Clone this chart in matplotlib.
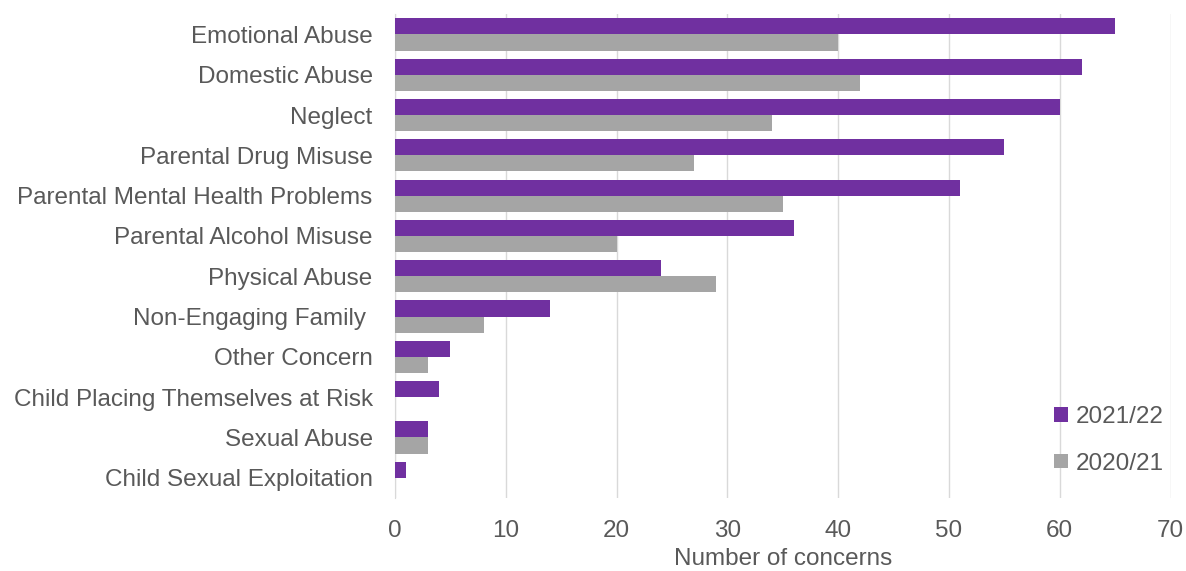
import numpy as np
import matplotlib.pyplot as plt

plt.rcParams['font.family'] = ['Liberation Sans', 'DejaVu Sans']

categories = ['Emotional Abuse', 'Domestic Abuse', 'Neglect', 'Parental Drug Misuse',
              'Parental Mental Health Problems', 'Parental Alcohol Misuse', 'Physical Abuse',
              'Non-Engaging Family ', 'Other Concern', 'Child Placing Themselves at Risk',
              'Sexual Abuse', 'Child Sexual Exploitation']
vals_2122 = [65, 62, 60, 55, 51, 36, 24, 14, 5, 4, 3, 1]
vals_2021 = [40, 42, 34, 27, 35, 20, 29, 8, 3, 0, 3, 0]

purple = '#7030A0'
grey = '#A5A5A5'
txt = '#595959'
fs = 17.5

fig = plt.figure(figsize=(11.86, 5.71), dpi=100)
ax = fig.add_axes([0.333, 0.128, 0.654, 0.847])

y = np.arange(len(categories))
h = 0.4
ax.barh(y - h / 2, vals_2122, height=h, color=purple, label='2021/22', zorder=3)
ax.barh(y + h / 2, vals_2021, height=h, color=grey, label='2020/21', zorder=3)

ax.set_ylim(len(categories) - 0.5, -0.5)
ax.set_yticks(y)
ax.set_yticklabels(categories, fontsize=fs, color=txt)
ax.set_xlim(0, 70)
ax.set_xticks(range(0, 71, 10))
ax.tick_params(axis='x', labelsize=fs, labelcolor=txt, length=0, pad=16)
ax.tick_params(axis='y', length=0, pad=16)
ax.set_xlabel('Number of concerns', fontsize=fs, color=txt, labelpad=4)

ax.grid(axis='x', color='#D9D9D9', linewidth=1, zorder=0)
for s in ['top', 'right', 'bottom']:
    ax.spines[s].set_visible(False)
ax.spines['left'].set_color('#D9D9D9')

leg = ax.legend(loc='lower right', bbox_to_anchor=(1.02, 0.003), frameon=False, fontsize=fs,
                handlelength=0.55, handleheight=0.55, handletextpad=0.35, labelspacing=1.0)
for t in leg.get_texts():
    t.set_color(txt)

fig.savefig('out.png', dpi=100)
